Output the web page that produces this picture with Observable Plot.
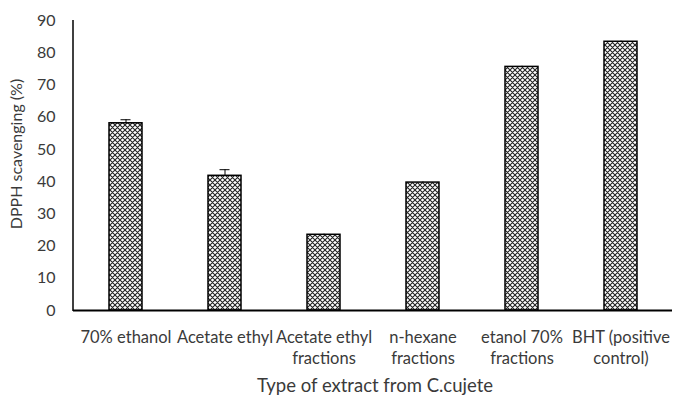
<!DOCTYPE html>
<html><head><meta charset="utf-8">
<script src="https://cdn.jsdelivr.net/npm/d3@7"></script>
<script src="https://cdn.jsdelivr.net/npm/@observablehq/plot@0.6"></script>
<style>body{margin:0;background:#fff;} svg{display:block;}</style>
</head><body><div id="chart"></div>
<script>
const categories = ["70% ethanol","Acetate ethyl","Acetate ethyl\nfractions","n-hexane\nfractions","etanol 70%\nfractions","BHT (positive\ncontrol)"];
const values = [58.1, 41.8, 23.5, 39.7, 75.6, 83.4];
const errors = [1.1, 1.9, 0.2, 0.2, 0.2, 0.2];
const yTicks = [0,10,20,30,40,50,60,70,80,90];
const data = categories.map((c,i)=>({cat:c, v:values[i], e:errors[i]}));
const font = "Lato, 'Open Sans', sans-serif";
const textColor = "#3a3a3a";
const chart = Plot.plot({
  width: 678, height: 398,
  marginTop: 20, marginBottom: 88, marginLeft: 73, marginRight: 6,
  style: {fontFamily: font, fontSize: "16.5px", color: textColor, background: "#fff"},
  x: {domain: categories, paddingInner: 0.67, paddingOuter: 0.335, label: null, axis: null},
  y: {domain: [0,90], label: null, axis: null},
  marks: [
    () => {
      const ns = "http://www.w3.org/2000/svg";
      const defs = document.createElementNS(ns, "defs");
      defs.innerHTML = `<pattern id="hatch" patternUnits="userSpaceOnUse" width="5" height="5">
        <rect width="5" height="5" fill="#fff"/>
        <path d="M0,0 L5,5 M5,0 L0,5 M-1,4 L1,6 M4,-1 L6,1 M-1,1 L1,-1 M4,6 L6,4" stroke="#222" stroke-width="1.1"/>
      </pattern>`;
      return defs;
    },
    Plot.axisY(yTicks, {tickSize: 0, tickPadding: 18, fontSize: 16, label: null, fill: textColor}),
    Plot.axisX({tickSize: 0, tickPadding: 17, fontSize: 16.5, lineHeight: 1.3, label: null, fill: textColor}),
    Plot.barY(data, {x: "cat", y: "v", fill: "url(#hatch)", stroke: "#000", strokeWidth: 1.5}),
    Plot.ruleX(data, {x: "cat", y1: d=>d.v, y2: d=>d.v+d.e, stroke: "#000", strokeWidth: 1}),
    Plot.tickY(data.filter(d=>d.e>0.5), {x: "cat", y: d=>d.v+d.e, stroke: "#000", strokeWidth: 1, inset: 11.5}),
    Plot.ruleY([0], {stroke: "#000", strokeWidth: 2}),
    (index, scales, values, dims) => {
      const ns = "http://www.w3.org/2000/svg";
      const line = document.createElementNS(ns, "line");
      line.setAttribute("x1", dims.marginLeft); line.setAttribute("x2", dims.marginLeft);
      line.setAttribute("y1", scales.y(90)); line.setAttribute("y2", scales.y(0) + 1);
      line.setAttribute("stroke", "#000"); line.setAttribute("stroke-width", 1.5);
      return line;
    }
  ]
});
document.getElementById("chart").appendChild(chart);
const svg = d3.select(chart);
svg.append("text").attr("transform","translate(18,154) rotate(-90)").attr("text-anchor","middle")
  .attr("dominant-baseline","middle").style("font-size","16px").style("font-family",font).attr("fill",textColor)
  .text("DPPH scavenging (%)");
svg.append("text").attr("x",375).attr("y",392).attr("text-anchor","middle")
  .style("font-size","18.5px").style("font-family",font).attr("fill",textColor)
  .text("Type of extract from C.cujete");
</script></body></html>
